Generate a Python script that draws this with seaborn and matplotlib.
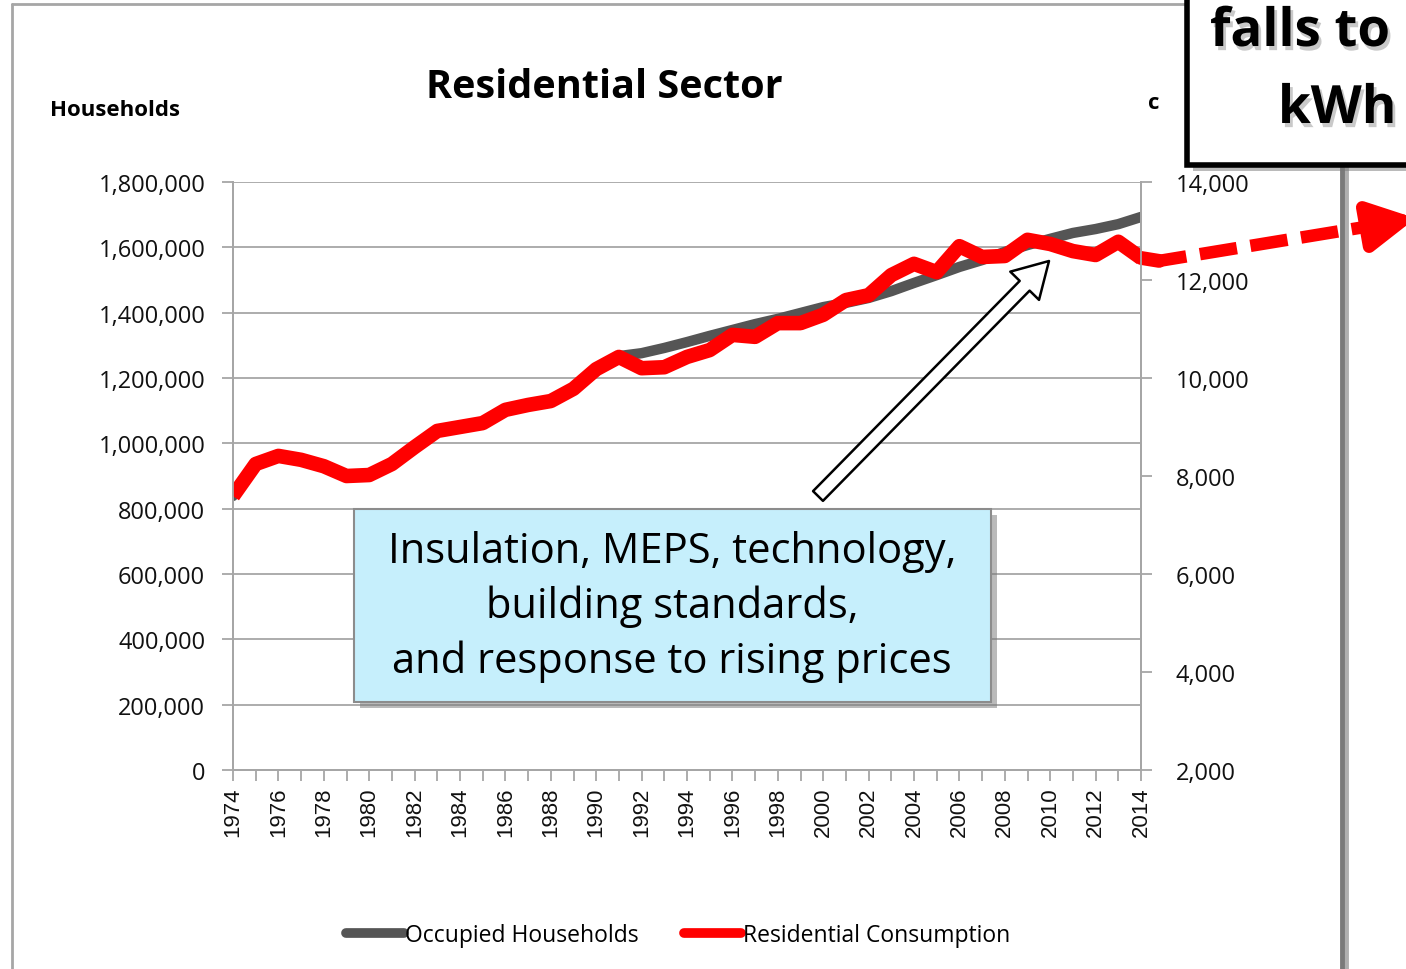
import numpy as np
import pandas as pd
import matplotlib
matplotlib.use('Agg')
import matplotlib.pyplot as plt
import matplotlib.patheffects as pe
from matplotlib.patches import Rectangle, FancyArrowPatch
from matplotlib.lines import Line2D
from matplotlib.ticker import FuncFormatter
import seaborn as sns

# Data
years = list(range(1974, 2015))
households = [839000, 937000, 961000, 949000, 930000, 900000, 903000, 937000, 989000, 1038000,
              1050000, 1062000, 1102000, 1117000, 1130000, 1166000, 1228000, 1267000, 1276000, 1292000,
              1310000, 1329000, 1347000, 1365000, 1381000, 1399000, 1417000, 1430000, 1445000, 1466000,
              1491000, 1515000, 1540000, 1561000, 1586000, 1607000, 1626000, 1644000, 1656000, 1671000,
              1693000]
consumption = [7590, 8245, 8410, 8330, 8200, 8000, 8020, 8245, 8590, 8920,
               9000, 9080, 9350, 9450, 9530, 9780, 10180, 10430, 10200, 10220,
               10430, 10570, 10880, 10840, 11120, 11120, 11290, 11590, 11690, 12100,
               12330, 12160, 12690, 12470, 12490, 12820, 12735, 12590, 12510, 12780,
               12450]

# projected trend (dashed red arrow leaving the plot)
proj_years = [2014, 2014.8, 2024.5]
proj_kwh = [12450, 12390, 13130]
proj_tip = (2026.1, 13260)

W, H = 1406, 970


def fx(x):
    return x / W


def fy(y):
    return 1 - y / H


sns.set_theme(style='white')
plt.rcParams['font.family'] = ['Open Sans', 'DejaVu Sans']

df = pd.DataFrame({'year': years, 'households': households, 'consumption': consumption})

fig = plt.figure(figsize=(W / 100, H / 100), dpi=100)
ax = fig.add_axes([fx(233), fy(771), (1141 - 233) / W, (771 - 183) / H])
ax2 = ax.twinx()

grid_col = '#a6a6a6'
sns.lineplot(data=df, x='year', y='households', ax=ax, color='#555555', lw=7.5,
             label='Occupied Households', legend=False, solid_joinstyle='round')
sns.lineplot(data=df, x='year', y='consumption', ax=ax2, color='#ff0000', lw=10.5,
             label='Residential Consumption', legend=False, solid_joinstyle='round',
             solid_capstyle='butt')

# projection
ax2.plot(proj_years[:2], proj_kwh[:2], color='#ff0000', lw=10, clip_on=False,
         solid_joinstyle='round')
ax2.plot(proj_years[1:], proj_kwh[1:], color='#ff0000', lw=9, clip_on=False,
         ls=(0.8, (3, 1.1)), dash_capstyle='butt')
ax2.annotate('', xy=proj_tip, xytext=(proj_years[-1], proj_kwh[-1]),
             arrowprops=dict(arrowstyle='-|>,head_length=0.9,head_width=0.48', mutation_scale=30,
                             color='#ff0000', lw=9, shrinkA=0, shrinkB=0),
             annotation_clip=False)

ax.set_xlim(1974, 2014)
ax.set_ylim(0, 1800000)
ax2.set_ylim(2000, 14000)
ax.set_yticks(np.arange(0, 1800001, 200000))
ax2.set_yticks(np.arange(2000, 14001, 2000))
ax.set_xticks(years[::2])
ax.set_xticks(years, minor=True)
ax.yaxis.set_major_formatter(FuncFormatter(lambda v, p: f'{v:,.0f}'))
ax2.yaxis.set_major_formatter(FuncFormatter(lambda v, p: f'{v:,.0f}'))
ax.set_xlabel('')
ax.set_ylabel('')
ax2.set_ylabel('')

ax.yaxis.grid(True, color=grid_col, lw=1.3)
ax.set_axisbelow(True)
for a in (ax, ax2):
    a.spines['top'].set_visible(False)
    for s in ('left', 'bottom', 'right'):
        a.spines[s].set_color(grid_col)
        a.spines[s].set_linewidth(1.3)

ax.tick_params(axis='y', left=True, direction='out', length=8, width=1.3, color=grid_col,
               labelsize=17, pad=12, labelcolor='#111111')
ax2.tick_params(axis='y', right=True, direction='out', length=8, width=1.3, color=grid_col,
                labelsize=17, pad=17, labelcolor='#111111')
ax.tick_params(axis='x', which='both', bottom=True, direction='out', length=8, width=1.3,
               color=grid_col, pad=4)
for lab in ax.get_xticklabels():
    lab.set_rotation(90)
    lab.set_fontfamily('Liberation Sans')
    lab.set_fontsize(16)
    lab.set_color('#111111')

# titles / axis labels
fig.text(fx(604), fy(88), 'Residential Sector', ha='center', va='center',
         fontsize=28.5, fontweight='bold', color='black')
fig.text(fx(50), fy(111), 'Households', ha='left', va='center', fontsize=16, fontweight='bold',
         color='black')
fig.text(fx(1148), fy(104), 'c', ha='left', va='center', fontsize=16, fontweight='bold',
         color='black')

# legend
h1, l1 = ax.get_legend_handles_labels()
h2, l2 = ax2.get_legend_handles_labels()
leg = fig.legend(h1 + h2, l1 + l2, loc='center', bbox_to_anchor=(fx(678), fy(936)), ncol=2,
                 frameon=False, fontsize=16.5, handlelength=2.5, handletextpad=0.05,
                 columnspacing=2.0)
for hl in leg.get_lines():
    hl.set_linewidth(7)
    hl.set_solid_capstyle('round')
for t in leg.get_texts():
    t.set_color('black')

# hollow arrow
arr = FancyArrowPatch(posA=(fx(818), fy(497)), posB=(fx(1049), fy(262)), transform=fig.transFigure,
                      arrowstyle='simple,head_width=1.45,head_length=1.25,tail_width=0.5',
                      mutation_scale=20, fc='white', ec='black', lw=1.8, shrinkA=0, shrinkB=0,
                      zorder=5)
fig.add_artist(arr)

# text box
shadow = [pe.withSimplePatchShadow(offset=(4, -4), shadow_rgbFace='#777777', alpha=0.5)]
box = Rectangle((fx(354), fy(703)), 637 / W, 193 / H, transform=fig.transFigure,
                fc='#c6effc', ec='#8c8c8c', lw=1.5, zorder=5, path_effects=shadow)
fig.add_artist(box)
fig.text(fx(672), fy(607), 'Insulation, MEPS, technology,\nbuilding standards,\nand response to rising prices',
         ha='center', va='center', fontsize=30, linespacing=1.37, zorder=6, color='black')

# outer frame
fig.add_artist(Line2D([fx(12), fx(12)], [fy(5), fy(980)], color='#a6a6a6', lw=2, zorder=4))
fig.add_artist(Line2D([fx(12), fx(1187)], [fy(5), fy(5)], color='#a6a6a6', lw=2, zorder=4))
fig.add_artist(Line2D([fx(1342), fx(1342)], [fy(166), fy(980)], color='#7a7a7a', lw=3.5, zorder=4,
                      path_effects=[pe.SimpleLineShadow(offset=(3, 0), alpha=0.35), pe.Normal()]))

# call-out box at top right
callout = Rectangle((fx(1187), fy(166)), 260 / W, 200 / H, transform=fig.transFigure,
                    fc='white', ec='black', lw=4, zorder=7, path_effects=shadow)
fig.add_artist(callout)
tshadow = [pe.withSimplePatchShadow(offset=(2, -3), shadow_rgbFace='#888888', alpha=0.45)]
fig.text(fx(1210), fy(33), 'falls to', ha='left', va='center', fontsize=38, fontweight='bold',
         zorder=8, path_effects=tshadow, color='black')
fig.text(fx(1278), fy(110), 'kWh', ha='left', va='center', fontsize=38, fontweight='bold',
         zorder=8, path_effects=tshadow, color='black')

fig.savefig('out.png', dpi=100)
